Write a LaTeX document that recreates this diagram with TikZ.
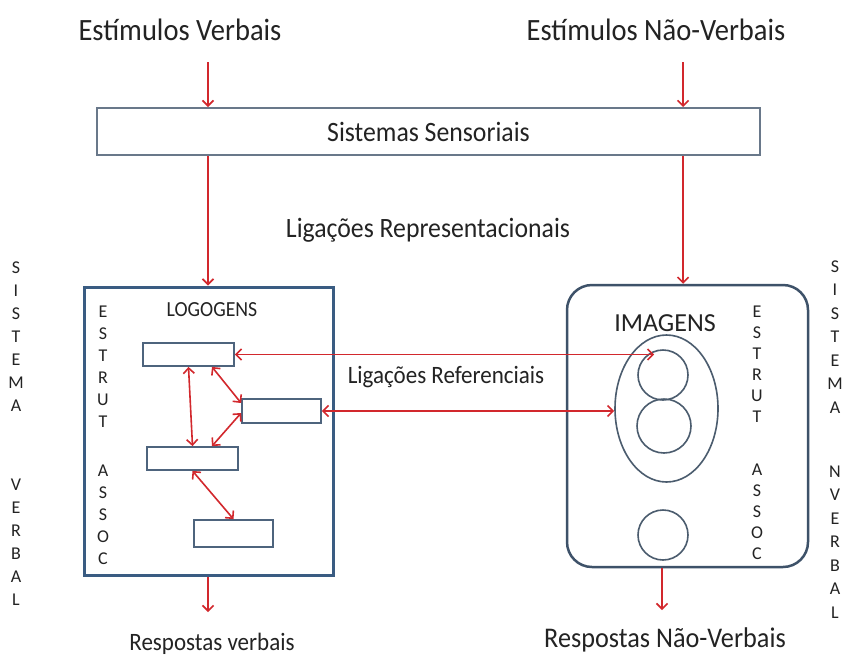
\documentclass[tikz,border=0pt]{standalone}
\usepackage{fontspec}
\setmainfont{Carlito}
\usetikzlibrary{arrows.meta,shapes.geometric}
\definecolor{arrred}{RGB}{210,40,45}
\definecolor{txtgray}{RGB}{35,35,35}
\definecolor{ssgray}{RGB}{105,120,138}
\definecolor{logblue}{RGB}{58,92,130}
\definecolor{imgblue}{RGB}{62,82,105}
\definecolor{boxblue}{RGB}{78,100,125}
\definecolor{circgray}{RGB}{75,92,110}
\newcommand{\narrowtext}[1]{\scalebox{0.92}[1]{#1}}
\begin{document}
\begin{tikzpicture}[x=1pt,y=-1pt,
  txt/.style={text=txtgray, inner sep=0pt},
  arr/.style={draw=arrred, line width=1.6pt, -{Straight Barb[length=5.5pt,width=11pt]}},
  darr/.style={draw=arrred, line width=1.6pt, {Straight Barb[length=5.5pt,width=11pt]}-{Straight Barb[length=5.5pt,width=11pt]}},
  smallbox/.style={draw=boxblue, line width=1.8pt, inner sep=0pt},
  circ/.style={draw=circgray, line width=1.6pt, circle, inner sep=0pt},
  vlet/.style={txt, align=center, font=\fontsize{18}{#1}\selectfont},
  vlet/.default=22
]
\useasboundingbox (0,0) rectangle (845,659);
\fill[white] (0,0) rectangle (845,659);

% titles
\node[txt, font=\fontsize{31}{33}\selectfont] (ev) at (180,30) {\narrowtext{Estímulos Verbais}};
\node[txt, font=\fontsize{31}{33}\selectfont] (env) at (656,30) {\narrowtext{Estímulos Não-Verbais}};

% sensory systems
\node[draw=ssgray, line width=2pt, minimum width=663pt, minimum height=47pt, inner sep=0pt,
      text=txtgray, font=\fontsize{28}{30}\selectfont] (ss) at (428.5,131.5) {\narrowtext{Sistemas Sensoriais}};

\node[txt, font=\fontsize{28}{30}\selectfont] (lr) at (428,230) {\narrowtext{Ligações Representacionais}};

% main boxes
\node[draw=logblue, line width=3pt, minimum width=249pt, minimum height=288pt, inner sep=0pt] (lg) at (208.5,431) {};
\node[draw=imgblue, line width=2.5pt, rounded corners=25pt, minimum width=241pt, minimum height=282pt, inner sep=0pt] (im) at (687.5,426) {};

\node[txt, font=\fontsize{21.5}{23}\selectfont] (lgt) at (212,310) {\narrowtext{LOGOGENS}};
\node[txt, font=\fontsize{26}{28}\selectfont] (imt) at (665,323) {IMAGENS};

% arrows top
\coordinate (s1) at (208,62);
\coordinate (s2) at (683,62);
\draw[arr] (s1) -- (s1 |- ss.north);
\draw[arr] (s2) -- (s2 |- ss.north);
\draw[arr] (s1 |- ss.south) -- (s1 |- lg.north);
\draw[arr] (s2 |- ss.south) -- (s2 |- im.north);

% arrows bottom
\coordinate (r1) at (208,612);
\coordinate (r2) at (662,610);
\draw[arr] (r1 |- lg.south) -- (r1);
\draw[arr] (r2 |- im.south) -- (r2);

\node[txt, font=\fontsize{25}{27}\selectfont] (rv) at (212,644) {\narrowtext{Respostas verbais}};
\node[txt, font=\fontsize{28.5}{30}\selectfont] (rnv) at (665,640) {\narrowtext{Respostas Não-Verbais}};

% logogen boxes
\node[smallbox, minimum width=91pt, minimum height=23pt] (b1) at (188.5,354.5) {};
\node[smallbox, minimum width=79pt, minimum height=24pt] (b2) at (281.5,411) {};
\node[smallbox, minimum width=91pt, minimum height=23pt] (b3) at (192.5,458.5) {};
\node[smallbox, minimum width=79pt, minimum height=27pt] (b4) at (233.5,533.5) {};

\draw[darr] (b1.south) -- (b3.north);
\draw[darr] ([xshift=23.5pt]b1.south) -- ([yshift=8pt]b2.west);
\draw[darr] ([yshift=-2pt]b2.west) -- ([xshift=19.5pt]b3.north);
\draw[darr] (b3.south) -- (b4.north);

% images
\node[draw=circgray, line width=1.6pt, ellipse, minimum width=103pt, minimum height=147pt, inner sep=0pt] (el) at (666.5,408.5) {};
\node[circ, minimum size=50pt] (c1) at (663,375) {};
\node[circ, minimum size=54pt] (c2) at (664,426) {};
\node[circ, minimum size=50pt] (c3) at (663,535) {};

% referential links
\draw[darr] (b1.east) -- (b1.east -| c1.110);
\draw[darr] (b2.east) -- (b2.east -| el.west);
\node[txt, font=\fontsize{25}{27}\selectfont] (lref) at (446,377) {\narrowtext{Ligações Referenciais}};

% vertical letters
\node[vlet=23] (sv1) at (16,337) {S\\I\\S\\T\\E\\M\\A};
\node[vlet=23] (sv2) at (16,542) {V\\E\\R\\B\\A\\L};
\node[vlet=23.5] (snv1) at (835,337) {S\\I\\S\\T\\E\\M\\A};
\node[vlet=23.5] (snv2) at (835,542) {N\\V\\E\\R\\B\\A\\L};

\node[vlet=22] (ea1) at (103,367) {E\\S\\T\\R\\U\\T};
\node[vlet=22] (ea2) at (103,515) {A\\S\\S\\O\\C};
\node[vlet=21] (eb1) at (757,364.5) {E\\S\\T\\R\\U\\T};
\node[vlet=21] (eb2) at (757,512) {A\\S\\S\\O\\C};
\end{tikzpicture}
\end{document}
